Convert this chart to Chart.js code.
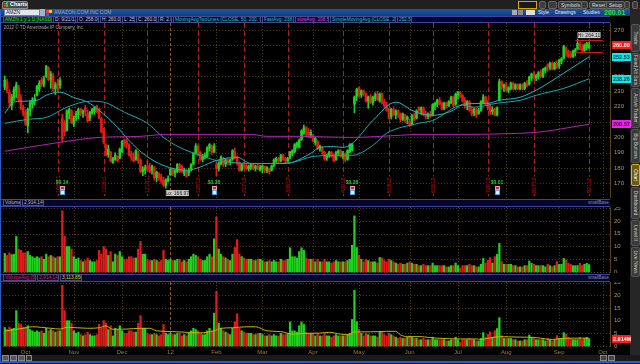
<!DOCTYPE html>
<html><head><meta charset="utf-8">
<script src="https://cdn.jsdelivr.net/npm/chart.js@4.4.1/dist/chart.umd.min.js"></script>
<style>
html,body{margin:0;padding:0}
body{width:640px;height:364px;background:#000;overflow:hidden;position:relative;font-family:"Liberation Sans",Arial,sans-serif}
div,span,canvas{position:absolute;box-sizing:border-box}
.t{white-space:nowrap;font-size:6px;line-height:7px}
.box{top:16px;height:7px;border:1px solid #4a4a8a;background:#07072e;font-size:4.8px;line-height:5px;padding:0 1px;white-space:nowrap;overflow:hidden}
.btn{top:1px;height:8px;background:#3c3c3c;border:1px solid #666;border-radius:2px;color:#ddd;font-size:5px;line-height:6px;padding:0 2px;white-space:nowrap}
.btn2{top:9px;height:7px;color:#e8e8e8;font-size:5px;line-height:7px;white-space:nowrap}
.tab{left:631px;width:9px;background:#3a3a3a;border:1px solid #555;border-radius:2px}
.tab span{position:absolute;left:50%;top:50%;transform:translate(-50%,-50%) rotate(90deg);color:#ccc;font-size:5px;white-space:nowrap}
</style></head><body>

<div style="left:0;top:0;width:640px;height:9px;background:#202020"></div>
<div style="left:2px;top:1px;width:26px;height:8px;background:#4a4a4a;border:1px solid #8a8a8a;border-radius:2px 2px 0 0"></div>
<div style="left:4px;top:3px;width:2px;height:4px;background:#e03030"></div>
<div style="left:6px;top:2px;width:2px;height:5px;background:#30c030"></div>
<div class="t" style="left:10px;top:1px;color:#fff;font-weight:bold;font-size:5.5px">Charts</div>
<div style="left:518px;top:1px;width:19px;height:8px;border:1px solid #d8a800;background:#1a1a1a"></div>
<div class="btn" style="left:539px;width:7px"></div>
<div class="btn" style="left:548px;width:9px"></div>
<div class="btn" style="left:558px">Symbols</div>
<div class="btn" style="left:581px;width:7px"></div>
<div class="btn" style="left:589px">Reset</div>
<div class="btn" style="left:606px">Setup</div>
<div class="btn" style="left:624px;width:6px"></div>
<div class="btn" style="left:632px;width:6px"></div>

<div style="left:0;top:9px;width:630px;height:7px;background:linear-gradient(#2157a8,#123c80)"></div>
<div style="left:4px;top:9px;width:36px;height:7px;background:#dfe6f0;border:1px solid #6a7fa0"></div>
<div class="t" style="left:6px;top:9px;color:#223;font-size:5px">AMZN</div>
<div style="left:40px;top:9px;width:5px;height:7px;background:#9fb3d0"></div>
<div style="left:46px;top:10px;width:3px;height:3px;background:#e04040"></div>
<div style="left:49px;top:10px;width:3px;height:3px;background:#f0d020"></div>
<div style="left:46px;top:13px;width:3px;height:3px;background:#3060e0"></div>
<div class="t" style="left:54px;top:9px;color:#9aa6c0;font-size:5px">AMAZON.COM INC COM</div>
<div style="left:512px;top:10px;width:5px;height:5px;background:#aab"></div>
<div style="left:518px;top:10px;width:5px;height:5px;background:#889"></div>
<div style="left:526px;top:10px;width:9px;height:5px;background:#e0e0e0"></div>
<div class="btn2" style="left:538px">Style</div>
<div class="btn2" style="left:555px">Drawings</div>
<div class="btn2" style="left:583px">Studies</div>
<div class="t" style="left:604px;top:9px;color:#30e030;font-weight:bold;font-size:7px">260.01</div>
<div class="t" style="left:630px;top:8px;color:#ff3030;font-size:4px;line-height:4px">+2.07<br>-0.1%</div>

<div style="left:0;top:16px;width:610px;height:7px;background:#06062a;border-top:1px solid #4040a0;border-bottom:1px solid #4040a0"></div>
<div class="box" style="left:3px;width:49px;color:#30d030;background:#003800">AMZN 1 y 1 D [NASDAQ]</div>
<div class="box" style="left:53px;width:23px;color:#ccc">D: 9/21/12</div>
<div class="box" style="left:77px;width:22px;color:#ccc">O: 258.00</div>
<div class="box" style="left:100px;width:21px;color:#ccc">H: 260.07</div>
<div class="box" style="left:122px;width:13px;color:#ccc">L: 258</div>
<div class="box" style="left:136px;width:21px;color:#ccc">C: 260.01</div>
<div class="box" style="left:158px;width:14px;color:#ccc">R: 2.07</div>
<div class="box" style="left:173px;width:88px;color:#1fc8c8">MovingAvgTwoLines (CLOSE, 50, 200, 0, SMA)</div>
<div class="box" style="left:262px;width:32px;color:#1fc8c8">FastAvg: 238.26</div>
<div class="box" style="left:295px;width:34px;color:#e040e0">slowAvg: 208.57</div>
<div class="box" style="left:330px;width:66px;color:#1fc8c8">SimpleMovingAvg (CLOSE, 20, 0)</div>
<div class="box" style="left:397px;width:15px;color:#1fc8c8">252.53</div>

<div style="left:0;top:199px;width:610px;height:8px;background:#06062a;border-top:1px solid #4040a0;border-bottom:1px solid #4040a0"></div>
<div class="box" style="left:3px;top:199px;width:18px;color:#bbb">Volume</div>
<div class="box" style="left:22px;top:199px;width:22px;color:#bbb">2,914,144</div>
<div class="t" style="left:588px;top:199px;color:#8a8ab0;font-size:4.5px">smallBase</div>

<div style="left:0;top:274px;width:610px;height:8px;background:#06062a;border-top:1px solid #4040a0;border-bottom:1px solid #4040a0"></div>
<div class="box" style="left:3px;top:274px;width:33px;color:#e02020">VolumeAvg (50)</div>
<div class="box" style="left:37px;top:274px;width:22px;color:#e02020">2,914,144</div>
<div class="box" style="left:60px;top:274px;width:22px;color:#d8d800">3,113,850</div>
<div class="t" style="left:588px;top:274px;color:#8a8ab0;font-size:4.5px">smallBase</div>

<div style="left:630px;top:9px;width:10px;height:348px;background:#262626"></div>
<div class="tab" style="top:24px;height:28px"><span>Trade</span></div>
<div class="tab" style="top:53px;height:34px"><span>Fixed Alt Sats</span></div>
<div class="tab" style="top:88px;height:40px"><span>Active Trader</span></div>
<div class="tab" style="top:129px;height:34px"><span>Big Buttons</span></div>
<div class="tab" style="top:164px;height:22px;background:#6a5a10;border-color:#d8b020"><span style="color:#fff">Chart</span></div>
<div class="tab" style="top:187px;height:32px"><span>Dashboard</span></div>
<div class="tab" style="top:220px;height:26px"><span>Level II</span></div>
<div class="tab" style="top:247px;height:30px"><span>Live News</span></div>

<div style="left:0;top:355px;width:640px;height:9px;background:#1a1a1a"></div>
<div style="left:2px;top:355px;width:7px;height:6px;background:#555;border:1px solid #888"></div>
<div style="left:10px;top:355px;width:7px;height:6px;background:#556;border:1px solid #88a"></div>
<div style="left:18px;top:355px;width:7px;height:6px;background:#555;border:1px solid #888"></div>
<div style="left:26px;top:355px;width:6px;height:6px;background:#333;border:1px solid #888"></div>
<div style="left:600px;top:355px;width:7px;height:6px;background:#444;border:1px solid #888"></div>
<div style="left:608px;top:355px;width:7px;height:6px;background:#444;border:1px solid #888"></div>
<div style="left:0;top:361px;width:640px;height:2px;background:#2a5cc0"></div>
<div style="left:0;top:9px;width:1px;height:354px;background:#2a5cc0"></div>

<canvas id="c1" width="640" height="175" style="left:0;top:23px"></canvas>
<canvas id="c2" width="640" height="66" style="left:0;top:207px"></canvas>
<canvas id="c3" width="640" height="75" style="left:0;top:282px"></canvas>

<div class="t" style="left:4px;top:24px;color:#aaa;font-size:4.5px">2012 © TD Ameritrade IP Company, Inc.</div>

<script>
// ---------------- DATA ----------------
const dates = [
"9/20/11","9/21/11","9/22/11","9/23/11","9/26/11","9/27/11","9/28/11","9/29/11","9/30/11",
"10/3/11","10/4/11","10/5/11","10/6/11","10/7/11","10/10/11","10/11/11","10/12/11","10/13/11","10/14/11","10/17/11","10/18/11","10/19/11","10/20/11","10/21/11","10/24/11","10/25/11","10/26/11","10/27/11","10/28/11","10/31/11",
"11/1/11","11/2/11","11/3/11","11/4/11","11/7/11","11/8/11","11/9/11","11/10/11","11/11/11","11/14/11","11/15/11","11/16/11","11/17/11","11/18/11","11/21/11","11/22/11","11/23/11","11/25/11","11/28/11","11/29/11","11/30/11",
"12/1/11","12/2/11","12/5/11","12/6/11","12/7/11","12/8/11","12/9/11","12/12/11","12/13/11","12/14/11","12/15/11","12/16/11","12/19/11","12/20/11","12/21/11","12/22/11","12/23/11","12/27/11","12/28/11","12/29/11","12/30/11",
"1/3/12","1/4/12","1/5/12","1/6/12","1/9/12","1/10/12","1/11/12","1/12/12","1/13/12","1/17/12","1/18/12","1/19/12","1/20/12","1/23/12","1/24/12","1/25/12","1/26/12","1/27/12","1/30/12","1/31/12",
"2/1/12","2/2/12","2/3/12","2/6/12","2/7/12","2/8/12","2/9/12","2/10/12","2/13/12","2/14/12","2/15/12","2/16/12","2/17/12","2/21/12","2/22/12","2/23/12","2/24/12","2/27/12","2/28/12","2/29/12",
"3/1/12","3/2/12","3/5/12","3/6/12","3/7/12","3/8/12","3/9/12","3/12/12","3/13/12","3/14/12","3/15/12","3/16/12","3/19/12","3/20/12","3/21/12","3/22/12","3/23/12","3/26/12","3/27/12","3/28/12","3/29/12","3/30/12",
"4/2/12","4/3/12","4/4/12","4/5/12","4/9/12","4/10/12","4/11/12","4/12/12","4/13/12","4/16/12","4/17/12","4/18/12","4/19/12","4/20/12","4/23/12","4/24/12","4/25/12","4/26/12","4/27/12","4/30/12",
"5/1/12","5/2/12","5/3/12","5/4/12","5/7/12","5/8/12","5/9/12","5/10/12","5/11/12","5/14/12","5/15/12","5/16/12","5/17/12","5/18/12","5/21/12","5/22/12","5/23/12","5/24/12","5/25/12","5/29/12","5/30/12","5/31/12",
"6/1/12","6/4/12","6/5/12","6/6/12","6/7/12","6/8/12","6/11/12","6/12/12","6/13/12","6/14/12","6/15/12","6/18/12","6/19/12","6/20/12","6/21/12","6/22/12","6/25/12","6/26/12","6/27/12","6/28/12","6/29/12",
"7/2/12","7/3/12","7/5/12","7/6/12","7/9/12","7/10/12","7/11/12","7/12/12","7/13/12","7/16/12","7/17/12","7/18/12","7/19/12","7/20/12","7/23/12","7/24/12","7/25/12","7/26/12","7/27/12","7/30/12","7/31/12",
"8/1/12","8/2/12","8/3/12","8/6/12","8/7/12","8/8/12","8/9/12","8/10/12","8/13/12","8/14/12","8/15/12","8/16/12","8/17/12","8/20/12","8/21/12","8/22/12","8/23/12","8/24/12","8/27/12","8/28/12","8/29/12","8/30/12","8/31/12",
"9/4/12","9/5/12","9/6/12","9/7/12","9/10/12","9/11/12","9/12/12","9/13/12","9/14/12","9/17/12","9/18/12","9/19/12","9/20/12","9/21/12",
"9/24/12","9/25/12","9/26/12","9/27/12","9/28/12","10/1/12"];

const opens = [233,236,229,221,226,231,232,225,219,
216,208,218,222,224,228,232,237,235,240,245,238,240,232,235,234,212,209,205,216,217,
209,213,215,218,216,219,215,213,216,217,220,218,212,204,194,189,190,184,186,187,187,
191,198,197,195,189,187,186,189,185,178,179,181,180,179,180,174,176,174,172,169,172,
176,179,177,178,182,181,177,178,177,180,183,190,194,190,186,187,188,193,194,191,
182,180,183,186,183,185,184,186,190,187,183,179,182,181,180,181,182,180,181,179,
180,181,179,179,179,182,185,186,185,188,186,185,187,190,191,195,194,199,203,206,203,202,
201,197,197,193,193,190,187,189,190,188,186,190,191,188,189,186,191,192,222,227,
232,228,230,228,224,226,223,226,228,224,228,223,221,218,214,218,215,217,215,212,214,212,
210,209,214,213,219,218,219,215,214,215,215,221,222,224,222,219,222,221,223,226,222,
228,229,227,224,221,223,218,216,218,216,218,223,226,222,220,217,218,215,225,236,233,
234,231,232,235,232,234,232,234,232,235,235,239,241,239,240,242,240,244,247,246,248,245,248,
247,250,252,258,256,254,253,256,258,261,258,257,259,258.5];
const highs = [240,238,231,228,233,236,234,228,221,
218,219,224,226,228,234,237,239,240,247,246,243,242,236,238,239,215,211,218,219,218,
214,217,219,219,218,221,218,217,219,220,221,219,213,206,196,195,191,187,190,188,193,
198,199,199,196,191,190,192,191,186,181,182,185,183,182,181,178,177,176,174,173,175,
180,180,179,183,183,182,180,179,180,183,190,196,195,191,189,190,194,196,195,196,
184,184,188,187,186,186,186,192,193,188,184,183,184,183,182,183,183,182,183,182,
182,181,181,180,182,186,187,187,189,189,187,187,191,192,196,197,199,205,208,207,206,205,
202,200,198,195,194,191,189,191,191,189,191,192,192,191,190,192,196,196,227,232,
233,231,231,229,227,228,227,229,230,229,229,225,223,219,219,220,218,218,216,216,215,214,
212,215,216,218,220,220,220,217,216,217,222,223,225,226,223,223,223,224,227,227,229,
230,230,228,226,224,224,220,219,219,219,224,228,227,224,222,220,219,220,238,237,235,
236,233,236,236,235,235,235,235,236,237,240,242,243,241,243,244,245,246,248,249,249,249,250,
251,252,260,259,257,256,257,258,264.11,262,261,261,262,262];
const lows = [231,229,220,218,224,226,223,218,214,
208,203,214,219,221,227,230,233,233,239,237,232,230,228,230,232,197,201,204,212,209,
207,211,212,214,213,214,210,211,215,215,216,212,203,196,188,187,184,183,185,184,186,
190,194,193,188,185,184,185,183,177,175,176,178,177,176,172,171,172,170,168,166.97,171,
175,175,174,177,177,177,175,174,175,178,182,189,188,185,184,186,187,191,189,190,
175,178,182,181,181,182,182,185,186,182,178,178,180,179,178,179,179,178,179,178,
177,177,177,176,178,181,183,183,184,185,183,184,186,188,190,193,193,198,202,201,200,200,
197,195,192,191,189,185,185,187,187,184,185,188,187,186,184,185,190,191,216,224,
226,226,227,223,219,222,221,224,224,223,222,219,217,212,212,214,212,213,210,211,210,209,
207,208,211,212,216,215,214,212,212,213,214,218,220,221,218,218,219,220,222,220,221,
225,226,223,219,218,217,214,214,213,215,217,222,221,218,215,215,214,214,224,231,230,
230,229,231,231,231,231,231,231,231,233,234,237,238,237,238,239,239,242,243,244,244,244,245,
245,248,251,253,252,252,252,253,257,257,255,256,257,258];
const closes = [237,231,223,226,231,234,225,219,216,
209,218,222,224,225,233,235,235,238,246,238,241,232,234,234,237,199,204,217,218,210,
212,215,218,216,217,217,211,216,218,219,217,213,204,197,189,192,185,186,188,185,192,
197,196,196,189,188,185,191,185,178,179,180,180,178,181,174,177,174,172,169,172,173,
179,177,178,182,178,179,178,175,178,182,189,194,190,186,187,188,193,195,191,194,
180,183,187,183,185,184,185,191,187,183,179,182,181,180,181,182,180,181,180,180,
181,179,180,178,181,185,186,185,188,186,185,186,190,191,195,196,198,204,206,203,202,203,
198,199,193,194,191,186,188,190,188,185,190,191,188,189,186,191,195,195,226,231,
228,230,229,224,226,223,226,227,225,228,223,221,218,213,218,215,217,215,212,215,211,213,
208,214,212,217,218,219,215,214,215,214,221,222,224,222,219,222,221,223,226,221,228,
229,227,224,221,223,218,216,218,215,217,223,226,222,220,217,218,215,219,236,233,234,
231,232,235,232,234,232,234,232,235,234,239,241,239,240,242,240,244,245,246,248,245,248,246,
250,251,259,255,253,253,256,257,261,258,257,260,261,260];
const volumes = [7.3,6.5,7.5,6.8,7.0,14.0,9.0,8.5,7.5,
7.5,8.0,6.5,6.0,5.5,6.0,5.5,6.0,5.0,7.0,6.0,6.5,6.0,5.5,6.0,6.0,24,14,10,10,9,
6,5,5.5,4.5,4,4.5,5.5,4.5,4,4,4.5,8.5,7,10,9,6.5,8,4,7,6.5,8,
6,5,5,6,6,5.5,5.5,9,12,7,7,5,4.5,4.5,5,4.5,4,4.5,8.5,5,4.5,
5,4.5,4.5,5,5,4,4.5,4,5,6,7,6.5,6,5,4.5,4.5,6,7,6,13,
21.6,9,7,6,5.5,5,4.5,7,9.6,12.7,7,6,5.5,5,5,5,4.5,4.5,5,5,
4.5,4,4,4.5,4,4.5,4,4,5,4.5,4.5,5,9.5,6,6,5.5,8,9.5,8.5,5.5,5,5,
5,4,5,4,4,5,4,4,3.5,4,4.5,4,4,4,4,4.5,5,10.5,22,9.6,
6.6,5,4,5,4.5,4,4,4,3.5,5.7,5.5,4.5,4,5,4.5,4,3.5,3,3.5,3,3,3.5,
4,3.5,3,3,2.5,2.5,3,2.5,2.5,2.5,3.5,2.5,2.5,2.5,2.5,2.5,2,2,2.5,2.5,3.5,
2.5,1.5,2.5,2.5,2.5,3,2.5,2.5,2,2,3,5.3,3.5,4.6,5.6,3.5,6,6.9,11.2,4.1,3,
3,3,3,2.5,2.5,2,2,2,2.5,2.5,4.3,3.4,3,2.5,2.5,2.5,2.5,2,3,2.5,2,2.5,4.1,
3,3,5.3,4.7,3.4,3,2.5,2.5,2.5,3.4,2.5,3,3.4,2.914];

const sma20 = [["9/20/11",215.8],["9/26/11",223],["9/29/11",223.6],["10/10/11",224.2],["10/14/11",227.5],["10/24/11",229.5],["11/1/11",226],["11/9/11",223],["11/16/11",217.7],["11/29/11",206.6],["12/6/11",198],["12/14/11",189.6],["12/23/11",183],["1/4/12",179.8],["1/12/12",178.5],["1/23/12",180.7],["2/1/12",185],["2/14/12",187],["2/23/12",183],["3/5/12",183],["3/16/12",183],["3/20/12",183.7],["3/30/12",189.6],["4/5/12",193.5],["4/16/12",194],["4/20/12",193.5],["4/26/12",196],["5/9/12",211],["5/23/12",223],["6/4/12",217.7],["6/7/12",215.8],["6/15/12",214.4],["6/28/12",217.7],["7/5/12",221.6],["7/20/12",222.3],["7/27/12",224.2],["8/9/12",226.2],["8/20/12",230.8],["9/6/12",241.9],["9/21/12",252.53]];
const sma50 = [["9/20/11",209.2],["10/4/11",211.8],["10/14/11",213],["10/27/11",219.7],["11/10/11",223.6],["11/18/11",223],["12/2/11",216.4],["12/16/11",209.2],["12/28/11",200],["1/9/12",193.5],["1/23/12",188.3],["2/1/12",185],["3/5/12",183],["3/20/12",183.7],["4/2/12",187.6],["4/19/12",188.3],["4/26/12",188.3],["5/9/12",194.8],["5/17/12",202.7],["6/7/12",209.2],["6/15/12",211],["7/5/12",221],["7/12/12",219.7],["7/26/12",222.3],["8/9/12",224.2],["8/20/12",227.5],["9/6/12",232],["9/21/12",238.26]];
const sma200 = [["9/20/11",191],["10/24/11",196.8],["11/16/11",200],["12/13/11",200.7],["12/29/11",202],["2/3/12",202],["2/23/12",202],["3/5/12",200.7],["3/23/12",200.7],["4/25/12",200],["5/25/12",201.4],["6/7/12",202],["7/10/12",202],["8/9/12",202.7],["8/20/12",203.3],["8/29/12",204.6],["9/11/12",206.6],["9/21/12",208.57]];
const volAvg50 = [["9/20/11",5.9],["9/30/11",7],["10/6/11",7.6],["10/18/11",7],["10/24/11",6.7],["10/27/11",7.4],["11/9/11",7],["11/16/11",7.2],["11/21/11",7.9],["11/25/11",6.6],["12/5/11",6.7],["12/13/11",7],["12/19/11",7],["12/22/11",6],["1/4/12",5.7],["1/23/12",5.2],["1/31/12",6],["2/3/12",7],["2/10/12",7.2],["2/21/12",7.6],["2/27/12",7.6],["3/5/12",6],["3/13/12",5.7],["3/20/12",4.7],["3/28/12",5],["4/5/12",5.1],["4/12/12",5.4],["4/19/12",4.7],["4/25/12",4.4],["4/26/12",5.5],["5/8/12",5.6],["5/17/12",5.8],["5/23/12",5.8],["5/25/12",4.4],["5/31/12",3.7],["6/8/12",3.7],["6/13/12",3.4],["6/19/12",3.1],["7/3/12",2.8],["7/13/12",2.8],["7/17/12",2.6],["7/23/12",3.2],["7/27/12",3.7],["8/9/12",3.5],["8/17/12",3.4],["8/27/12",2.7],["8/29/12",2.6],["9/4/12",2.9],["9/12/12",3.1],["9/21/12",3.1]];

const priceTicks = [170,180,190,200,210,220,230,240,250,260,270];
const volTicks = [0,5,10,15,20,25];
const monthStarts = ["10/3/11","11/1/11","12/1/11","1/3/12","2/1/12","3/1/12","4/2/12","5/1/12","6/1/12","7/2/12","8/1/12","9/4/12","10/1/12"];
const monthLabels = ["Oct","Nov","Dec","12","Feb","Mar","Apr","May","Jun","Jul","Aug","Sep","Oct"];
const expiries = ["10/21/11","11/18/11","12/16/11","1/20/12","2/17/12","3/16/12","4/20/12","5/18/12","6/15/12","7/20/12","8/17/12","9/21/12"];
const expiryLabels = ["102111","111811","121611","12012","21712","31612","42012","51812","61512","72012","81712","92112"];
const earnDates = ["10/25/11","1/31/12","4/26/12","7/26/12"];
const earnEps = ["$0.14","$0.38","$0.28","$0.01"];
const priceMarks = [["Hi: 264.11","9/14/12",264.11,"hi"],["Lo: 166.97","12/29/11",166.97,"lo"]];
const priceBoxes = [[260.00,"260.00","#f02020","#fff"],[252.53,"252.53","#10e8e8","#033"],[238.26,"238.26","#10e8e8","#033"],[208.57,"208.57","#f020f0","#303"]];
const rangeLines = [263.3,255.8];
const volAvgBoxes = [[2.914,"2.914M","#f02020","#fff"]];

// ---------------- HELPERS ----------------
const UP = '#1ed21e', DN = '#e41a1a', FLAT = '#10d8e8';
const xi = d => dates.indexOf(d);
const barColors = closes.map((c,i)=> c>opens[i]?UP:(c<opens[i]?DN:FLAT));
const toPts = arr => arr.map(([d,v])=>({x:xi(d),y:v}));
const XMIN=-0.78, XMAX=263.1;
const commonX = {type:'linear',min:XMIN,max:XMAX,offset:false,bounds:'ticks',display:false,grid:{offset:false}};
const base = {animation:false,responsive:false,maintainAspectRatio:false,events:[],
  plugins:{legend:{display:false},tooltip:{enabled:false}}};

function overlay(o){
  return {id:'ov'+Math.random().toString(36).slice(2),
  beforeDatasetsDraw(chart){
    const {ctx,chartArea:a,scales:{x,y}}=chart;
    ctx.save();
    ctx.lineWidth=1;
    ctx.strokeStyle='#4e3a18'; ctx.setLineDash([1,2]);
    o.ticks.forEach(v=>{const py=Math.round(y.getPixelForValue(v))+0.5;
      if(py<a.top||py>a.bottom)return;
      ctx.beginPath();ctx.moveTo(a.left,py);ctx.lineTo(a.right,py);ctx.stroke();});
    monthStarts.forEach((d,i)=>{const px=Math.round(x.getPixelForValue(xi(d)))+0.5;
      if(px>a.right)return;
      ctx.strokeStyle= monthLabels[i]==='12' ? '#8a5a1a' : '#4e3a18';
      ctx.setLineDash(monthLabels[i]==='12'?[3,2]:[1,2]);
      ctx.beginPath();ctx.moveTo(px,a.top);ctx.lineTo(px,a.bottom);ctx.stroke();});
    if(o.expiry){
      ctx.strokeStyle='#c81414'; ctx.setLineDash([5,3]);
      expiries.forEach((d,i)=>{const px=Math.round(x.getPixelForValue(xi(d)))+0.5;
        ctx.beginPath();ctx.moveTo(px,a.top);ctx.lineTo(px,a.bottom);ctx.stroke();});
      ctx.setLineDash([]);
      ctx.font='5.5px "Liberation Sans"';
      ctx.textAlign='left'; ctx.textBaseline='middle';
      expiries.forEach((d,i)=>{const px=x.getPixelForValue(xi(d));
        ctx.save();ctx.translate(px+0.5,a.bottom-5);ctx.rotate(-Math.PI/2);
        ctx.fillStyle='#000';ctx.fillRect(-1,-3,expiryLabels[i].length*3.1+2,6);
        ctx.fillStyle='#d01818';ctx.fillText(expiryLabels[i],0,0);ctx.restore();});
    }
    ctx.restore();
  },
  afterDatasetsDraw(chart){
    const {ctx,chartArea:a,scales:{x,y}}=chart;
    ctx.save();
    ctx.strokeStyle='#5a4320';ctx.lineWidth=1;ctx.beginPath();ctx.moveTo(a.right+0.5,a.top);ctx.lineTo(a.right+0.5,a.bottom);ctx.stroke();
    ctx.font='6px "Liberation Sans"';ctx.fillStyle='#a8987a';ctx.textAlign='left';ctx.textBaseline='middle';
    o.ticks.forEach(v=>{const py=y.getPixelForValue(v); if(py<a.top-2||py>a.bottom+2)return; ctx.fillText(String(v),a.right+4,py);});
    (o.boxes||[]).forEach(([v,t,bg,fg])=>{const py=Math.round(y.getPixelForValue(v));
      ctx.fillStyle=bg;ctx.fillRect(a.right+2,py-4,19,8);
      ctx.fillStyle=fg;ctx.font='bold 5.5px "Liberation Sans"';ctx.fillText(t,a.right+3,py+0.5);});
    if(o.expiry){
      earnDates.forEach((d,i)=>{const px=Math.round(x.getPixelForValue(xi(d)));
        ctx.fillStyle='#22d022';ctx.font='bold 5px "Liberation Sans"';ctx.textAlign='center';
        ctx.fillText(earnEps[i],px,a.bottom-15);
        ctx.fillStyle='#e8a0a0';ctx.fillRect(px-2,a.bottom-12,5,4);
        ctx.fillStyle='#c03030';ctx.fillRect(px-1,a.bottom-11,3,2);
        ctx.fillStyle='#50a8e0';ctx.fillRect(px-2,a.bottom-8,5,5);
        ctx.fillStyle='#e0f0ff';ctx.fillRect(px-1,a.bottom-7,3,3);});
      priceMarks.forEach(([t,d,v,k])=>{const px=x.getPixelForValue(xi(d)), py=y.getPixelForValue(v);
        const w=23, by = k==='hi'? py-7 : py+2;
        ctx.fillStyle='#c8c8c8';ctx.fillRect(px,by,w,6);
        ctx.fillStyle='#222';ctx.font='5px "Liberation Sans"';ctx.textAlign='center';ctx.fillText(t,px+w/2,by+3.2);});
      ctx.strokeStyle='#d01818';ctx.lineWidth=1;
      rangeLines.forEach(v=>{const py=Math.round(y.getPixelForValue(v))+0.5;
        const x0=x.getPixelForValue(xi("9/13/12")), x1=x.getPixelForValue(xi("10/1/12"));
        ctx.beginPath();ctx.moveTo(x0,py);ctx.lineTo(x1,py);ctx.stroke();});
    }
    if(o.months){
      ctx.fillStyle='#a07a48';ctx.font='6px "Liberation Sans"';ctx.textAlign='center';ctx.textBaseline='middle';
      monthStarts.forEach((d,i)=>{ctx.fillText(monthLabels[i],x.getPixelForValue(xi(d)),a.bottom+5);});
    }
    ctx.restore();
  }};
}

const lineDs = (pts,col)=>({type:'line',data:toPts(pts),borderColor:col,borderWidth:1,pointRadius:0,
  cubicInterpolationMode:'monotone',order:0,clip:false});

function fixX(s){ s.min = XMIN; s.max = XMAX; }

new Chart(document.getElementById('c1'),{
  type:'bar',
  data:{datasets:[
    {data:lows.map((l,i)=>({x:i,y:[l,highs[i]]})),backgroundColor:barColors,barThickness:1,grouped:false,order:2},
    {data:opens.map((o,i)=>({x:i,y:[Math.min(o,closes[i])-0.3,Math.max(o,closes[i])+0.3]})),backgroundColor:barColors,barThickness:2,grouped:false,order:2},
    lineDs(sma200,'#b423b4'),
    lineDs(sma50,'#1aa6ad'),
    lineDs(sma20,'#1fb8be')
  ]},
  options:{...base,layout:{padding:{left:3,right:30,top:0,bottom:0}},
    scales:{x:{...commonX,afterDataLimits:fixX},y:{display:false,min:160.5,max:274.6}}},
  plugins:[overlay({ticks:priceTicks,expiry:true,boxes:priceBoxes})]
});

new Chart(document.getElementById('c2'),{
  type:'bar',
  data:{datasets:[{data:volumes.map((v,i)=>({x:i,y:v})),backgroundColor:barColors,barThickness:1.6}]},
  options:{...base,layout:{padding:{left:3,right:30,top:0,bottom:0}},
    scales:{x:{...commonX,afterDataLimits:fixX},y:{display:false,min:-0.4,max:25.5}}},
  plugins:[overlay({ticks:volTicks})]
});

new Chart(document.getElementById('c3'),{
  type:'bar',
  data:{datasets:[
    {data:volumes.map((v,i)=>({x:i,y:v})),backgroundColor:barColors,barThickness:1.6,order:2},
    lineDs(volAvg50,'#c0b800')
  ]},
  options:{...base,layout:{padding:{left:3,right:30,top:0,bottom:10}},
    scales:{x:{...commonX,afterDataLimits:fixX},y:{display:false,min:-0.39,max:25.28}}},
  plugins:[overlay({ticks:volTicks,months:true,boxes:volAvgBoxes})]
});
</script>
</body></html>
